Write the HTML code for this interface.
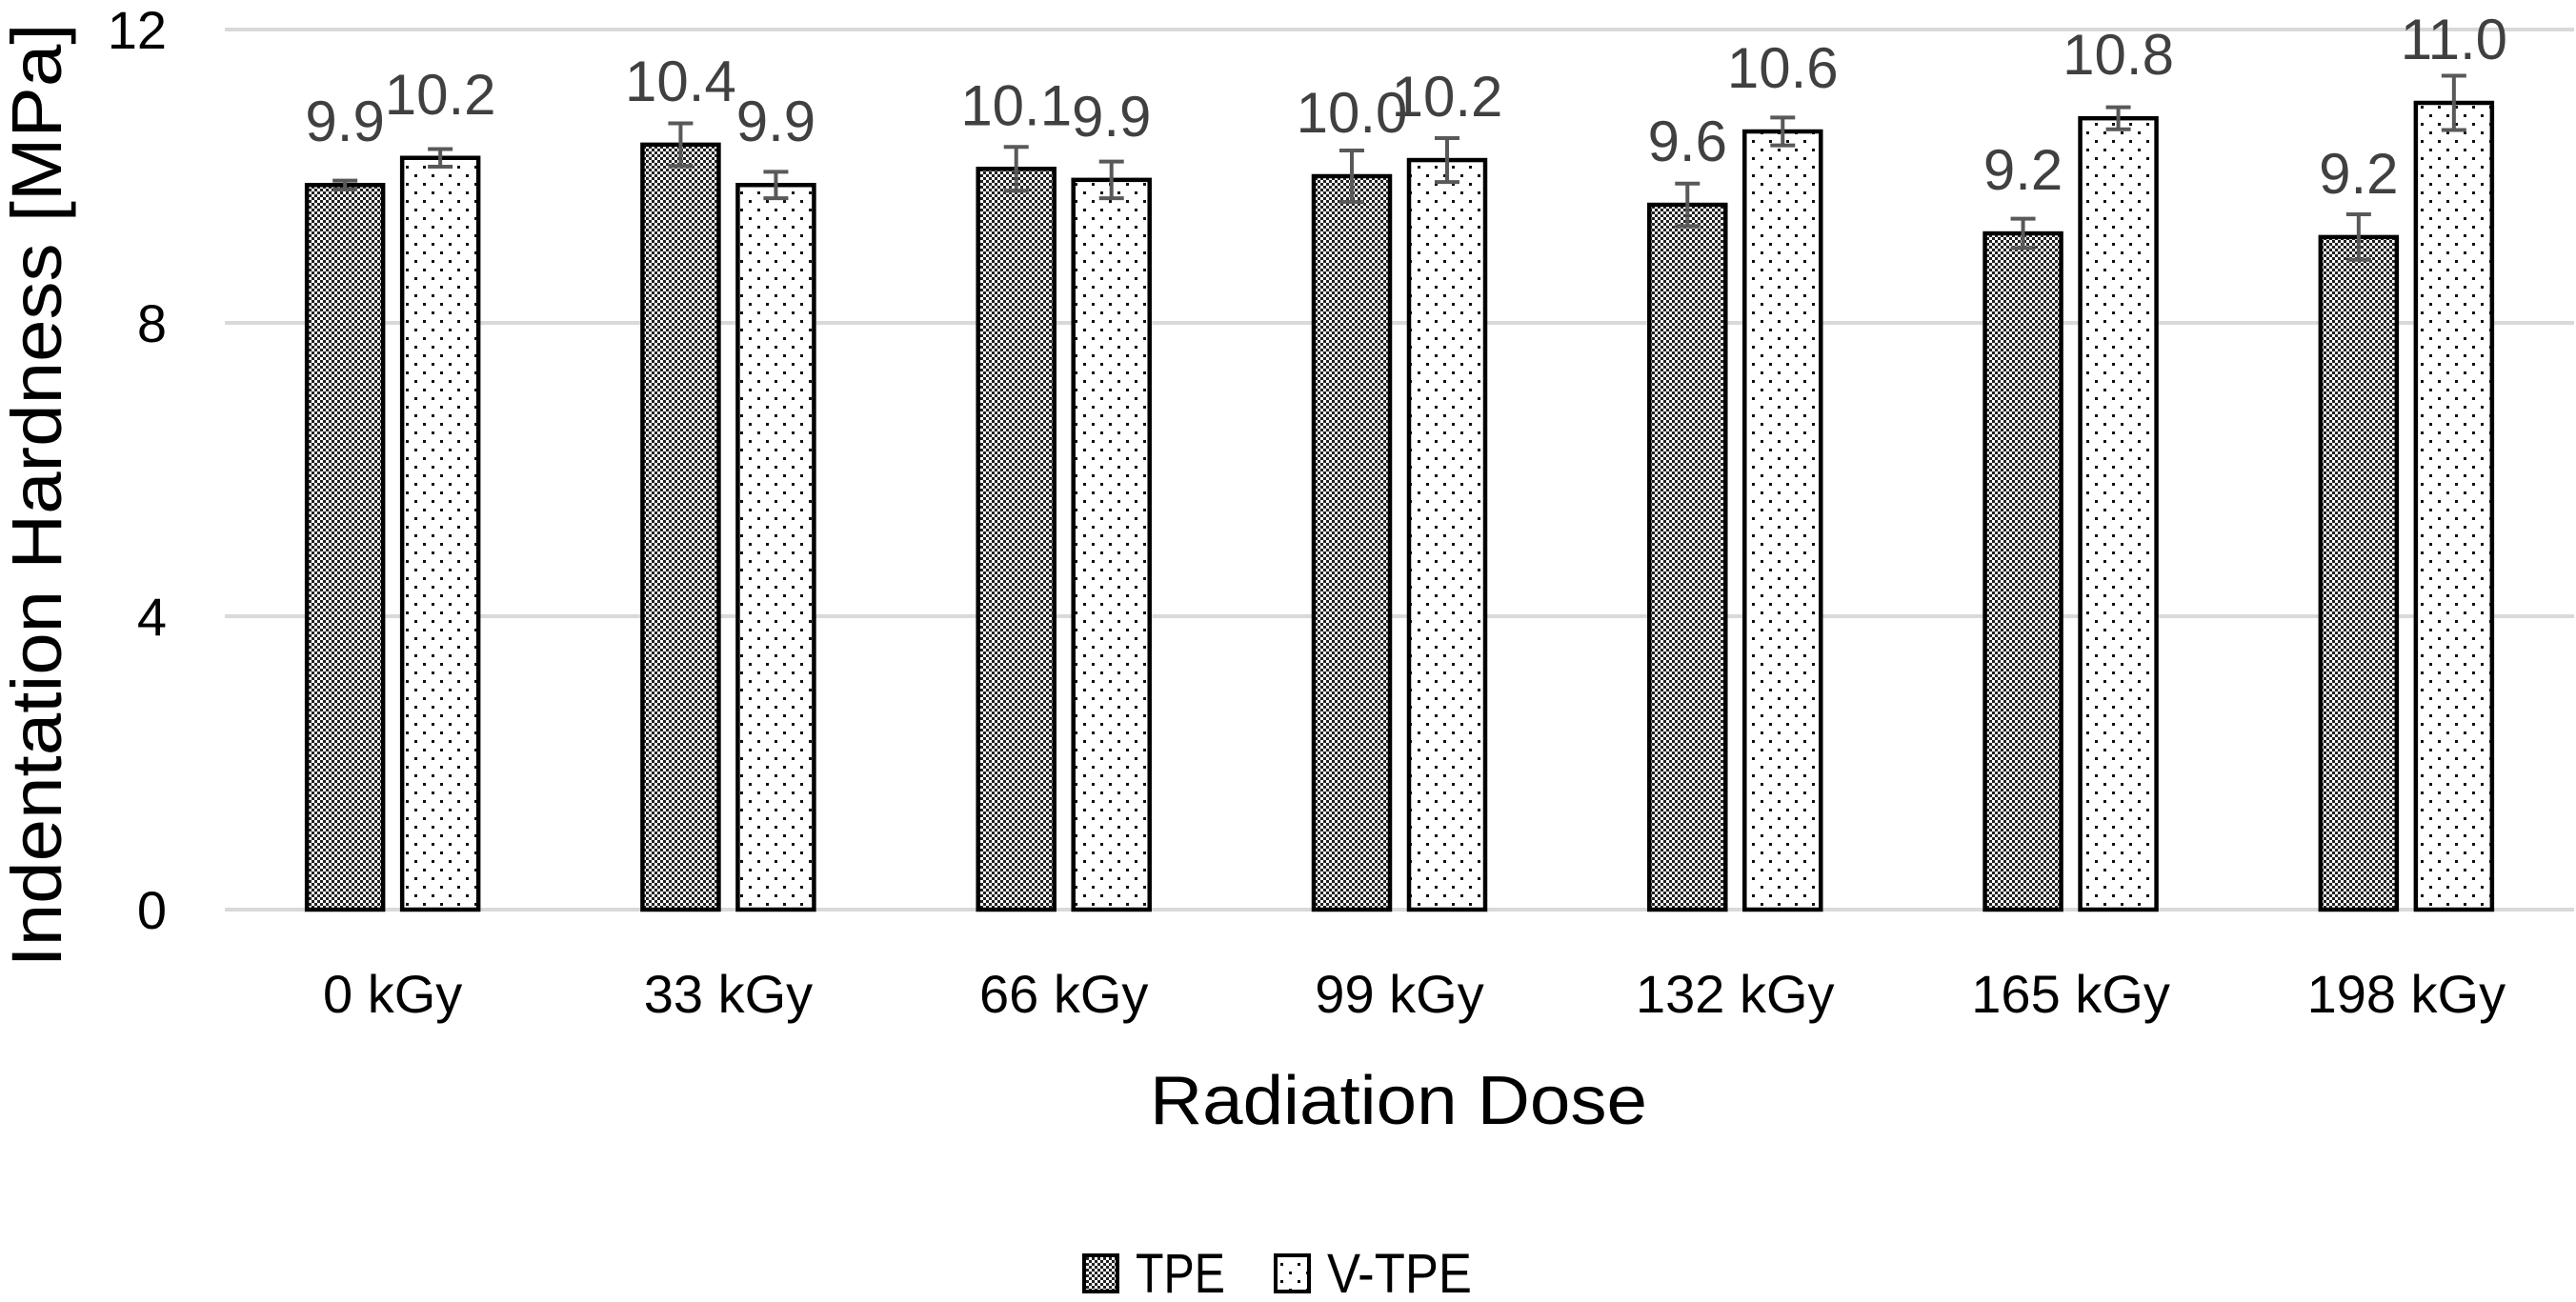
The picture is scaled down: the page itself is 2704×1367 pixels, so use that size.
<!DOCTYPE html>
<html><head><meta charset="utf-8"><style>
html,body{margin:0;padding:0;background:#fff;}
svg{display:block;font-family:"Liberation Sans",sans-serif;}
</style></head><body>
<svg id="chart" width="2704" height="1367" viewBox="0 0 2704 1367">
<defs>
<pattern id="checker" width="6" height="6" patternUnits="userSpaceOnUse">
<rect width="6" height="6" fill="#fff"/><rect width="3" height="3" fill="#222"/><rect x="3" y="3" width="3" height="3" fill="#222"/>
</pattern>
<pattern id="dots" width="18" height="18" patternUnits="userSpaceOnUse">
<rect width="18" height="18" fill="#fff"/><rect x="3" y="3" width="3" height="3" fill="#111"/><rect x="12" y="12" width="3" height="3" fill="#111"/>
</pattern>
</defs>
<g id="grid"></g>
<g id="bars"></g>
<g id="labels"></g>
<text x="0" y="0" transform="translate(64,520) rotate(-90)" text-anchor="middle" font-size="74" textLength="991" lengthAdjust="spacingAndGlyphs" fill="#000">Indentation Hardness [MPa]</text>
<text x="1468" y="1180" text-anchor="middle" font-size="72" textLength="522" lengthAdjust="spacingAndGlyphs" fill="#000">Radiation Dose</text>
<g>
<g>
<rect x="1138" y="1318" width="35" height="38" fill="url(#checker)" stroke="#000" stroke-width="4"/>
<text x="1192" y="1357" font-size="58" textLength="94" lengthAdjust="spacingAndGlyphs">TPE</text>
</g>
<g>
<rect x="1339" y="1318" width="35" height="38" fill="url(#dots)" stroke="#000" stroke-width="4"/>
<text x="1393" y="1357" font-size="58" textLength="152" lengthAdjust="spacingAndGlyphs">V-TPE</text>
</g>
</g>
</svg>
<script>
const categories = ["0 kGy","33 kGy","66 kGy","99 kGy","132 kGy","165 kGy","198 kGy"];
const tpeValues = [9.88,10.43,10.1,10.0,9.61,9.22,9.17];
const vtpeValues = [10.25,9.88,9.95,10.22,10.61,10.79,11.0];
const tpeErrors = [0.06,0.29,0.3,0.35,0.29,0.2,0.31];
const vtpeErrors = [0.12,0.18,0.25,0.3,0.19,0.15,0.37];
const tpeLabels = ["9.9","10.4","10.1","10.0","9.6","9.2","9.2"];
const vtpeLabels = ["10.2","9.9","9.9","10.2","10.6","10.8","11.0"];
const yTicks = [0,4,8,12];

const NS = "http://www.w3.org/2000/svg";
const plotLeft = 236, plotRight = 2702, y0 = 955, yTop = 31, yMax = 12;
const band = (plotRight - plotLeft) / categories.length;
function yScale(v){ return y0 - (y0 - yTop) * v / yMax; }
function xCenter(i){ return plotLeft + band * (i + 0.5); }
function mk(tag, attrs, parent){ const e = document.createElementNS(NS, tag); for (const k in attrs) e.setAttribute(k, attrs[k]); parent.appendChild(e); return e; }

const grid = document.getElementById('grid');
const barsG = document.getElementById('bars');
const labelsG = document.getElementById('labels');

yTicks.forEach(t => {
  const y = yScale(t);
  const l = mk('line', {x1: plotLeft, x2: plotRight, y1: y, y2: y, stroke: '#d9d9d9', 'stroke-width': 4}, grid);
  
  
  const tx = mk('text', {x: 175, y: y + 20, 'text-anchor': 'end', 'font-size': 56, fill: '#000'}, grid);
  tx.textContent = t;
  
  
});

const barW = 80, off = 50;
function drawBar(i, v, err, lbl, dx, fill, series){
  const cx = xCenter(i) + dx;
  const yv = yScale(v);
  const r = mk('rect', {x: cx - barW/2, y: yv, width: barW, height: y0 - yv, fill: fill, stroke: '#000', 'stroke-width': 4.5}, barsG);
  
  
  const yt = yScale(v + err), yb = yScale(v - err);
  const eg = mk('g', {stroke: '#595959', 'stroke-width': 4}, barsG);
  
  
  mk('line', {x1: cx, x2: cx, y1: yt, y2: yb}, eg);
  mk('line', {x1: cx - 13, x2: cx + 13, y1: yt, y2: yt}, eg);
  mk('line', {x1: cx - 13, x2: cx + 13, y1: yb, y2: yb}, eg);
  const t = mk('text', {x: cx, y: yv - 46, 'text-anchor': 'middle', 'font-size': 60, fill: '#404040'}, labelsG);
  t.textContent = lbl;
  
  
}
categories.forEach((c, i) => {
  drawBar(i, tpeValues[i], tpeErrors[i], tpeLabels[i], -off, 'url(#checker)', 'tpe');
  drawBar(i, vtpeValues[i], vtpeErrors[i], vtpeLabels[i], off, 'url(#dots)', 'v-tpe');
  const t = mk('text', {x: xCenter(i), y: 1063, 'text-anchor': 'middle', 'font-size': 56, fill: '#000'}, labelsG);
  t.textContent = c;
  
  
});
</script>
</body></html>
